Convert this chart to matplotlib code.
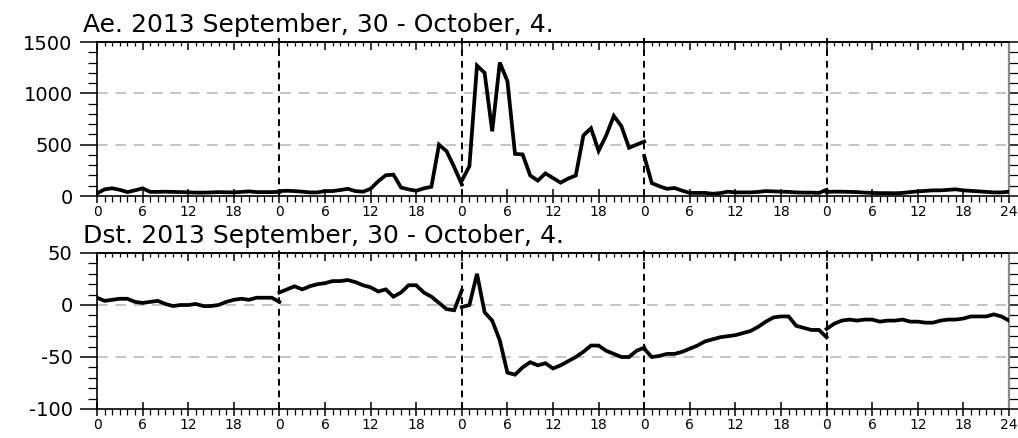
import numpy as np
import matplotlib
matplotlib.use("Agg")
import matplotlib.pyplot as plt
from matplotlib.ticker import MultipleLocator, FixedLocator, FixedFormatter

plt.rcParams["font.family"] = ["DejaVu Sans"]
plt.rcParams["axes.unicode_minus"] = False

# Hourly values (hours 0..24 of each day), 30 Sep - 4 Oct 2013
hours = np.arange(25)
day_names = ["Sep 30", "Oct 1", "Oct 2", "Oct 3", "Oct 4"]

ae_sep30 = [25, 65, 75, 60, 38, 55, 75, 40, 40, 42, 40, 38, 36, 33, 33, 35, 38, 36, 35, 40, 45, 38, 38, 38, 40]
ae_oct1 = [48, 51, 48, 42, 35, 35, 48, 48, 58, 70, 48, 42, 70, 144, 202, 208, 83, 64, 51, 74, 90, 500, 436, 282, 112]
ae_oct2 = [150, 290, 1270, 1200, 630, 1300, 1120, 410, 405, 200, 150, 220, 175, 130, 170, 200, 590, 660, 440, 590, 780, 680, 470, 500, 530]
ae_oct3 = [390, 125, 95, 70, 78, 52, 30, 30, 30, 22, 28, 42, 35, 35, 35, 40, 48, 45, 42, 40, 35, 33, 33, 30, 60]
ae_oct4 = [40, 42, 42, 40, 38, 33, 30, 28, 28, 27, 30, 38, 45, 50, 55, 55, 60, 65, 55, 50, 45, 40, 35, 35, 42]

dst_sep30 = [7, 4, 5, 6, 6, 3, 2, 3, 4, 1, -1, 0, 0, 1, -1, -1, 0, 3, 5, 6, 5, 7, 7, 7, 3]
dst_oct1 = [12, 15, 18, 15, 18, 20, 21, 23, 23, 24, 22, 19, 17, 13, 15, 8, 12, 19, 19, 12, 8, 2, -4, -5, 14]
dst_oct2 = [-2, 0, 30, -7, -15, -34, -65, -67, -60, -55, -58, -56, -61, -58, -54, -50, -45, -39, -39, -44, -47, -50, -50, -44, -41]
dst_oct3 = [-42, -50, -49, -47, -47, -45, -42, -39, -35, -33, -31, -30, -29, -27, -25, -21, -16, -12, -11, -11, -20, -22, -24, -24, -31]
dst_oct4 = [-23, -18, -15, -14, -15, -14, -14, -16, -15, -15, -14, -16, -16, -17, -17, -15, -14, -14, -13, -11, -11, -11, -9, -11, -15]

ae_days = [ae_sep30, ae_oct1, ae_oct2, ae_oct3, ae_oct4]
dst_days = [dst_sep30, dst_oct1, dst_oct2, dst_oct3, dst_oct4]

ae_title = "Ae. 2013 September, 30 - October, 4."
dst_title = "Dst. 2013 September, 30 - October, 4."

ae_yticks = [0, 500, 1000, 1500]
dst_yticks = [-100, -50, 0, 50]
ae_grid = [500, 1000]
dst_grid = [-50, 0]

n_days = len(day_names)
major_x = np.arange(0, 24 * n_days + 1, 6)
major_labels = [str(int(t % 24)) if t < 24 * n_days else "24" for t in major_x]

W, H = 1018, 438
fig = plt.figure(figsize=(W / 100, H / 100), dpi=100)

left, right = 97 / W, 1009 / W


def axes_box(top_px, bottom_px):
    return [left, 1 - bottom_px / H, right - left, (bottom_px - top_px) / H]


def style_panel(ax, ylim, yticks, yminor, grid_vals, values_by_day, title, title_base_px):
    for i, vals in enumerate(values_by_day):
        ax.plot(24 * i + hours, vals, color="black", lw=2.7,
                solid_joinstyle="miter", zorder=4)
    for y in grid_vals:
        ax.axhline(y, color="#b4b4b4", lw=1.1, ls=(0, (7, 5)), zorder=1)
    for d in range(1, n_days):
        ax.axvline(24 * d, ymin=0, ymax=1.025, color="black", lw=1.4,
                   ls=(0, (3.5, 2.5)), clip_on=False, zorder=3)

    ax.set_xlim(0, 24 * n_days)
    ax.set_ylim(*ylim)

    ax.xaxis.set_major_locator(FixedLocator(major_x))
    ax.xaxis.set_major_formatter(FixedFormatter(major_labels))
    ax.xaxis.set_minor_locator(MultipleLocator(1))
    ax.tick_params(axis="x", which="major", direction="inout", length=9.5,
                   width=1.1, labelsize=10, pad=1.5, top=False)
    ax.tick_params(axis="x", which="minor", direction="out", length=4.2,
                   width=0.9, top=False)

    ax.yaxis.set_major_locator(FixedLocator(yticks))
    ax.yaxis.set_minor_locator(MultipleLocator(yminor))
    ax.tick_params(axis="y", which="major", direction="out", length=12.5,
                   width=1.1, labelsize=14, pad=5, right=True)
    ax.tick_params(axis="y", which="minor", direction="out", length=6.5,
                   width=0.9, right=True)

    top = ax.secondary_xaxis("top")
    top.xaxis.set_major_locator(FixedLocator(major_x))
    top.xaxis.set_minor_locator(MultipleLocator(1))
    top.tick_params(axis="x", which="major", direction="in", length=5.5,
                    width=1.1, labeltop=False)
    top.tick_params(axis="x", which="minor", direction="in", length=3,
                    width=0.9)
    top.spines["top"].set_linewidth(1.2)

    for side in ["left", "bottom", "top"]:
        ax.spines[side].set_linewidth(1.2)
        ax.spines[side].set_color("black")
    ax.spines["right"].set_color("#8a8a8a")
    ax.spines["right"].set_linewidth(1.6)

    fig.text(83 / W, 1 - title_base_px / H, title, fontsize=18,
             ha="left", va="baseline")


ax1 = fig.add_axes(axes_box(42, 196))
style_panel(ax1, (0, 1500), ae_yticks, 100, ae_grid, ae_days, ae_title, 32)

ax2 = fig.add_axes(axes_box(253, 409))
style_panel(ax2, (-100, 50), dst_yticks, 10, dst_grid, dst_days, dst_title, 243)

fig.savefig("out.png", dpi=100, facecolor="white")
